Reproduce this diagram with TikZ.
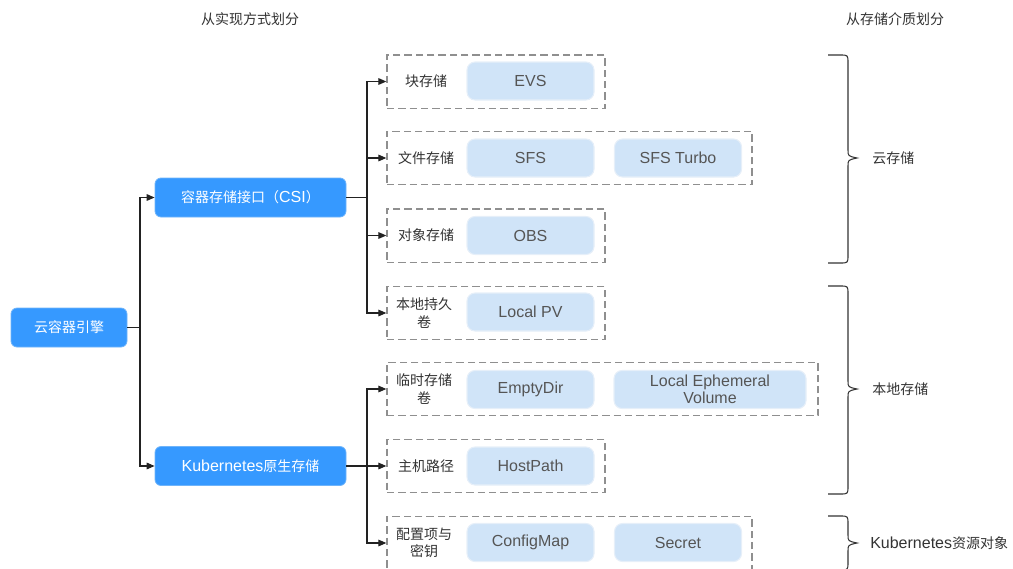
\documentclass[tikz,border=0pt]{standalone}
\usepackage{fontspec}
\setmainfont{Liberation Sans}
\newfontfamily\cjkfont{Noto Sans CJK SC}
\newcommand{\zh}[1]{{\cjkfont\fontsize{10.5}{13}\selectfont #1}}
\usetikzlibrary{arrows.meta}
\definecolor{darkblue}{HTML}{3699FF}
\definecolor{darkborder}{HTML}{6FB4FA}
\definecolor{lightblue}{HTML}{D0E4F8}
\definecolor{lightborder}{HTML}{E6EFF9}
\definecolor{textgray}{HTML}{555555}
\definecolor{labelgray}{HTML}{333333}
\definecolor{dashgray}{HTML}{8F8F8F}
\definecolor{linecol}{HTML}{222222}
\newcommand{\sbrace}[3]{\draw[bracestyle] (828,#1) -- (840,#1) .. controls (848,#1) .. (848,{#1+8}) -- (848,{#2-8}) .. controls (848,{#2-2}) .. (857,#2) .. controls (848,{#2+2}) .. (848,{#2+8}) -- (848,{#3-8}) .. controls (848,#3) .. (840,#3) -- (828,#3);}
\tikzset{
  base/.style={font=\fontsize{12}{13}\selectfont},
  dark/.style={base, rounded corners=4.5pt, fill=darkblue, draw=darkborder, line width=0.6pt, text=white, minimum height=29.25pt, inner sep=0pt},
  light/.style={base, rounded corners=6pt, fill=lightblue, draw=lightborder, line width=0.8pt, text=textgray, minimum width=95.25pt, minimum height=28.5pt, inner sep=0pt, align=center},
  grp/.style={draw=dashgray, dash pattern=on 5.5pt off 3pt, line width=1pt, minimum height=40pt, inner sep=0pt},
  lbl/.style={base, text=labelgray, align=center, inner sep=0pt},
  head/.style={base, text=labelgray, inner sep=0pt},
  conn/.style={draw=linecol, line width=0.8pt},
  arr/.style={conn, -{Triangle[length=6pt,width=5pt]}},
  bracestyle/.style={draw=labelgray, line width=0.8pt},
}
\begin{document}
\begin{tikzpicture}[x=0.75pt,y=-0.75pt]
\useasboundingbox (0,0) rectangle (1013,568);
\clip (0,0) rectangle (1013,568);
% headers
\node[head] (h1) at (250,19) {\zh{从实现方式划分}};
\node[head] (h2) at (895,19) {\zh{从存储介质划分}};
% main nodes
\node[dark, minimum width=87pt] (engine) at (69,327.5) {\zh{云容器引擎}};
\node[dark, minimum width=143.25pt] (csi) at (250.5,197.5) {\zh{容器存储接口（}CSI\zh{）}};
\node[dark, minimum width=143.25pt] (k8s) at (250.5,466) {Kubernetes\zh{原生存储}};
% groups
\node[grp, minimum width=163.5pt] (g1) at (496,81.5) {};
\node[grp, minimum width=273.75pt] (g2) at (569.5,158) {};
\node[grp, minimum width=163.5pt] (g3) at (496,235.5) {};
\node[grp, minimum width=163.5pt] (g4) at (496,313) {};
\node[grp, minimum width=323.25pt] (g5) at (602.5,389) {};
\node[grp, minimum width=163.5pt] (g6) at (496,466) {};
\node[grp, minimum width=273.75pt] (g7) at (569.5,543) {};
% group labels
\node[lbl] (l1) at (426,81.5) {\zh{块存储}};
\node[lbl] (l2) at (426,158) {\zh{文件存储}};
\node[lbl] (l3) at (426,235.5) {\zh{对象存储}};
\node[lbl] (l4) at (424,313) {\zh{本地持久}\\\zh{卷}};
\node[lbl] (l5) at (424,389) {\zh{临时存储}\\\zh{卷}};
\node[lbl] (l6) at (426,466) {\zh{主机路径}};
\node[lbl] (l7) at (424,543) {\zh{配置项与}\\\zh{密钥}};
% light nodes
\node[light] (evs) at (530.5,81) {EVS};
\node[light] (sfs) at (530.5,158) {SFS};
\node[light] (sfst) at (678,158) {SFS Turbo};
\node[light] (obs) at (530.5,235.5) {OBS};
\node[light] (lpv) at (530.5,312) {Local PV};
\node[light] (ed) at (530.5,389.5) {EmptyDir};
\node[light, minimum width=144pt] (lev) at (710,389.5) {Local Ephemeral\\Volume};
\node[light] (hp) at (530.5,466) {HostPath};
\node[light] (cm) at (530.5,542.5) {ConfigMap};
\node[light] (sec) at (678,542.5) {Secret};
% connectors
\coordinate (j1) at (140,327.5);
\draw[conn] (engine.east) -- (j1);
\draw[arr] (j1) |- (csi.west);
\draw[arr] (j1) |- (k8s.west);
\coordinate (j2) at (367,197.5);
\draw[conn] (csi.east) -- (j2);
\draw[arr] (j2) |- (g1.west);
\draw[arr] (j2) |- (g2.west);
\draw[arr] (j2) |- (g3.west);
\draw[arr] (j2) |- (g4.west);
\coordinate (j3) at (367,466);
\draw[conn] (k8s.east) -- (j3);
\draw[arr] (j3) |- (g5.west);
\draw[arr] (j3) -- (g6.west);
\draw[arr] (j3) |- (g7.west);
% braces
\sbrace{55}{158}{263}
\sbrace{286}{389}{494}
\sbrace{516}{543}{570}
\node[lbl, anchor=west] (b1) at (872,158) {\zh{云存储}};
\node[lbl, anchor=west] (b2) at (872,389) {\zh{本地存储}};
\node[lbl, anchor=west] (b3) at (870,543) {Kubernetes\zh{资源对象}};
\end{tikzpicture}
\end{document}
